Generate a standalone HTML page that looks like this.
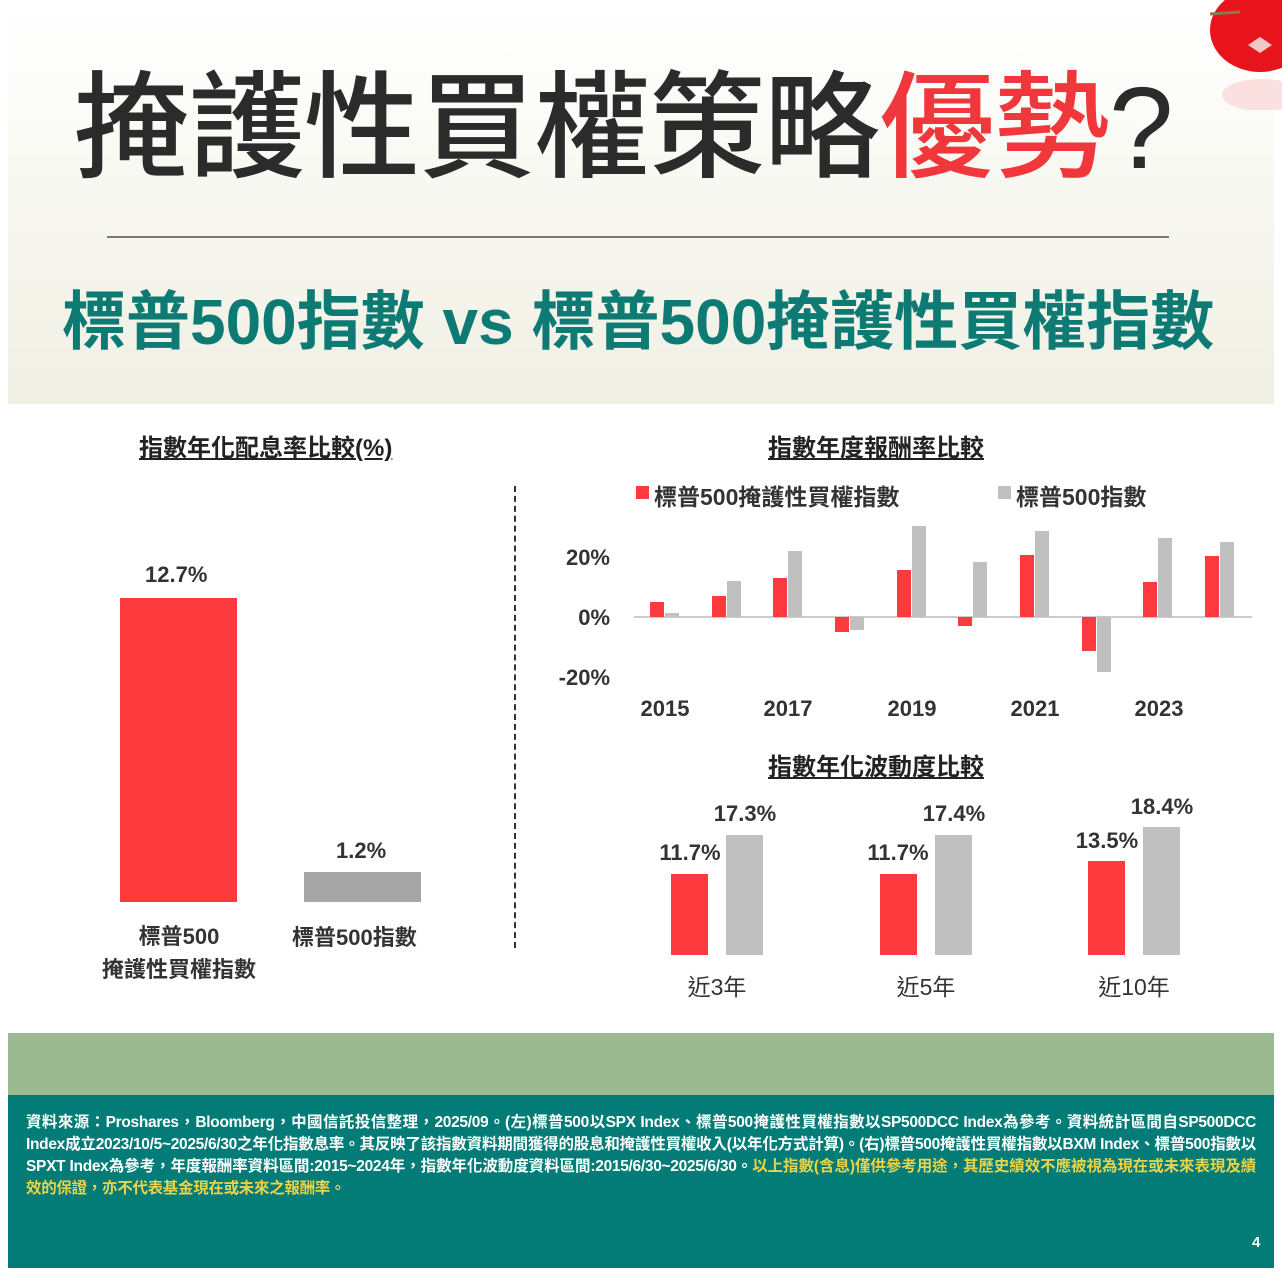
<!DOCTYPE html>
<html><head><meta charset="utf-8"><style>
body{margin:0;width:1282px;height:1276px;background:#fff;overflow:hidden;font-family:"Liberation Sans","Noto Sans CJK TC",sans-serif;position:relative}
.a{position:absolute;white-space:nowrap}
.hdr{position:absolute;left:8px;top:8px;width:1266px;height:396px;background:linear-gradient(#fff 0%,#f6f6ee 60%,#efefe4 100%)}
</style></head><body>
<div class="hdr"></div>
<div class="a" style="left:74px;top:58px;font-size:116px;font-weight:500;color:#2b2b2b;letter-spacing:-1px;line-height:140px">掩護性買權策略<span style="color:#f0383c">優勢</span>?</div>
<svg class="a" style="left:1200px;top:0" width="82" height="110"><ellipse cx="60" cy="30" rx="50" ry="42" fill="#e8141c"/><line x1="10" y1="14" x2="40" y2="12" stroke="#8a7a4a" stroke-width="3"/><path d="M48 45 l12 -8 l12 8 l-12 8z" fill="#f5c8c8"/><ellipse cx="62" cy="95" rx="40" ry="16" fill="#fbe0e0"/></svg>
<div class="a" style="left:107px;top:236px;width:1062px;height:2px;background:#777"></div>
<div class="a" style="left:62px;top:282px;font-size:64px;font-weight:bold;color:#0e7a74;line-height:80px">標普500指數 vs 標普500掩護性買權指數</div>

<div class="a" style="left:139px;top:428px;font-size:24px;font-weight:bold;color:#222;text-decoration:underline">指數年化配息率比較(%)</div>
<div class="a" style="left:768px;top:428px;font-size:24px;font-weight:bold;color:#222;text-decoration:underline">指數年度報酬率比較</div>
<div class="a" style="left:768px;top:747px;font-size:24px;font-weight:bold;color:#222;text-decoration:underline">指數年化波動度比較</div>
<div class="a" style="left:514px;top:486px;height:462px;border-left:2px dashed #333"></div>

<div class="a" style="left:120px;top:598px;width:117px;height:304px;background:#fd3a3e"></div>
<div class="a" style="left:304px;top:872px;width:117px;height:30px;background:#a6a6a6"></div>
<div class="a" style="left:145px;top:562px;font-size:22px;font-weight:bold;color:#333">12.7%</div>
<div class="a" style="left:336px;top:838px;font-size:22px;font-weight:bold;color:#333">1.2%</div>
<div class="a" style="left:92px;top:920px;width:174px;text-align:center;font-size:22px;font-weight:bold;color:#333;line-height:33px;white-space:normal">標普500<br>掩護性買權指數</div>
<div class="a" style="left:292px;top:920px;font-size:22px;font-weight:bold;color:#333">標普500指數</div>

<div class="a" style="left:636px;top:486px;width:13px;height:13px;background:#fd3a3e"></div>
<div class="a" style="left:654px;top:478px;font-size:23px;font-weight:bold;color:#333">標普500掩護性買權指數</div>
<div class="a" style="left:998px;top:486px;width:13px;height:13px;background:#c0c0c0"></div>
<div class="a" style="left:1016px;top:478px;font-size:23px;font-weight:bold;color:#333">標普500指數</div>

<svg class="a" style="left:540px;top:520px" width="730" height="210" font-family="Liberation Sans" font-weight="bold" font-size="22" fill="#333">
<line x1="94" y1="97" x2="712" y2="97" stroke="#ccc" stroke-width="2"/>
<text x="70" y="45" text-anchor="end">20%</text>
<text x="70" y="105" text-anchor="end">0%</text>
<text x="70" y="165" text-anchor="end">-20%</text>
<text x="125" y="196" text-anchor="middle">2015</text>
<text x="248" y="196" text-anchor="middle">2017</text>
<text x="372" y="196" text-anchor="middle">2019</text>
<text x="495" y="196" text-anchor="middle">2021</text>
<text x="619" y="196" text-anchor="middle">2023</text>
<rect x="110" y="82" width="14" height="15" fill="#fd3a3e"/><rect x="125" y="93" width="14" height="4" fill="#c0c0c0"/>
<rect x="172" y="76" width="14" height="21" fill="#fd3a3e"/><rect x="187" y="61" width="14" height="36" fill="#c0c0c0"/>
<rect x="233" y="58" width="14" height="39" fill="#fd3a3e"/><rect x="248" y="31" width="14" height="66" fill="#c0c0c0"/>
<rect x="295" y="97" width="14" height="15" fill="#fd3a3e"/><rect x="310" y="97" width="14" height="13" fill="#c0c0c0"/>
<rect x="357" y="50" width="14" height="47" fill="#fd3a3e"/><rect x="372" y="6" width="14" height="91" fill="#c0c0c0"/>
<rect x="418" y="97" width="14" height="9" fill="#fd3a3e"/><rect x="433" y="42" width="14" height="55" fill="#c0c0c0"/>
<rect x="480" y="35" width="14" height="62" fill="#fd3a3e"/><rect x="495" y="11" width="14" height="86" fill="#c0c0c0"/>
<rect x="542" y="97" width="14" height="34" fill="#fd3a3e"/><rect x="557" y="97" width="14" height="55" fill="#c0c0c0"/>
<rect x="603" y="62" width="14" height="35" fill="#fd3a3e"/><rect x="618" y="18" width="14" height="79" fill="#c0c0c0"/>
<rect x="665" y="36" width="14" height="61" fill="#fd3a3e"/><rect x="680" y="22" width="14" height="75" fill="#c0c0c0"/>
</svg>

<svg class="a" style="left:640px;top:790px" width="600" height="220" font-family="Liberation Sans" font-weight="bold" font-size="22" fill="#333">
<rect x="31" y="84" width="37" height="81" fill="#fd3a3e"/><rect x="86" y="45" width="37" height="120" fill="#c0c0c0"/>
<rect x="240" y="84" width="37" height="81" fill="#fd3a3e"/><rect x="295" y="45" width="37" height="120" fill="#c0c0c0"/>
<rect x="448" y="71" width="37" height="94" fill="#fd3a3e"/><rect x="503" y="37" width="37" height="128" fill="#c0c0c0"/>
<text x="50" y="70" text-anchor="middle">11.7%</text><text x="105" y="31" text-anchor="middle">17.3%</text>
<text x="258" y="70" text-anchor="middle">11.7%</text><text x="314" y="31" text-anchor="middle">17.4%</text>
<text x="467" y="58" text-anchor="middle">13.5%</text><text x="522" y="24" text-anchor="middle">18.4%</text>
<g font-weight="normal" font-size="23" font-family="Liberation Sans,Noto Sans CJK TC"><text x="77" y="205" text-anchor="middle">近3年</text><text x="286" y="205" text-anchor="middle">近5年</text><text x="494" y="205" text-anchor="middle">近10年</text></g>
</svg>

<div class="a" style="left:8px;top:1033px;width:1266px;height:62px;background:#9cba92"></div>
<div class="a" style="left:8px;top:1095px;width:1266px;height:173px;background:#037b76"></div>
<div class="a" style="left:26px;top:1112px;width:1230px;font-size:15.5px;font-weight:bold;color:#fff;line-height:22px;white-space:normal;text-align:justify;letter-spacing:-0.3px">資料來源：Proshares，Bloomberg，中國信託投信整理，2025/09。(左)標普500以SPX Index、標普500掩護性買權指數以SP500DCC Index為參考。資料統計區間自SP500DCC Index成立2023/10/5~2025/6/30之年化指數息率。其反映了該指數資料期間獲得的股息和掩護性買權收入(以年化方式計算)。(右)標普500掩護性買權指數以BXM Index、標普500指數以SPXT Index為參考，年度報酬率資料區間:2015~2024年，指數年化波動度資料區間:2015/6/30~2025/6/30。<span style="color:#e8d34a">以上指數(含息)僅供參考用途，其歷史績效不應被視為現在或未來表現及績效的保證，亦不代表基金現在或未來之報酬率。</span></div>
<div class="a" style="left:1252px;top:1234px;font-size:15px;font-weight:bold;color:#fff">4</div>
</body></html>
